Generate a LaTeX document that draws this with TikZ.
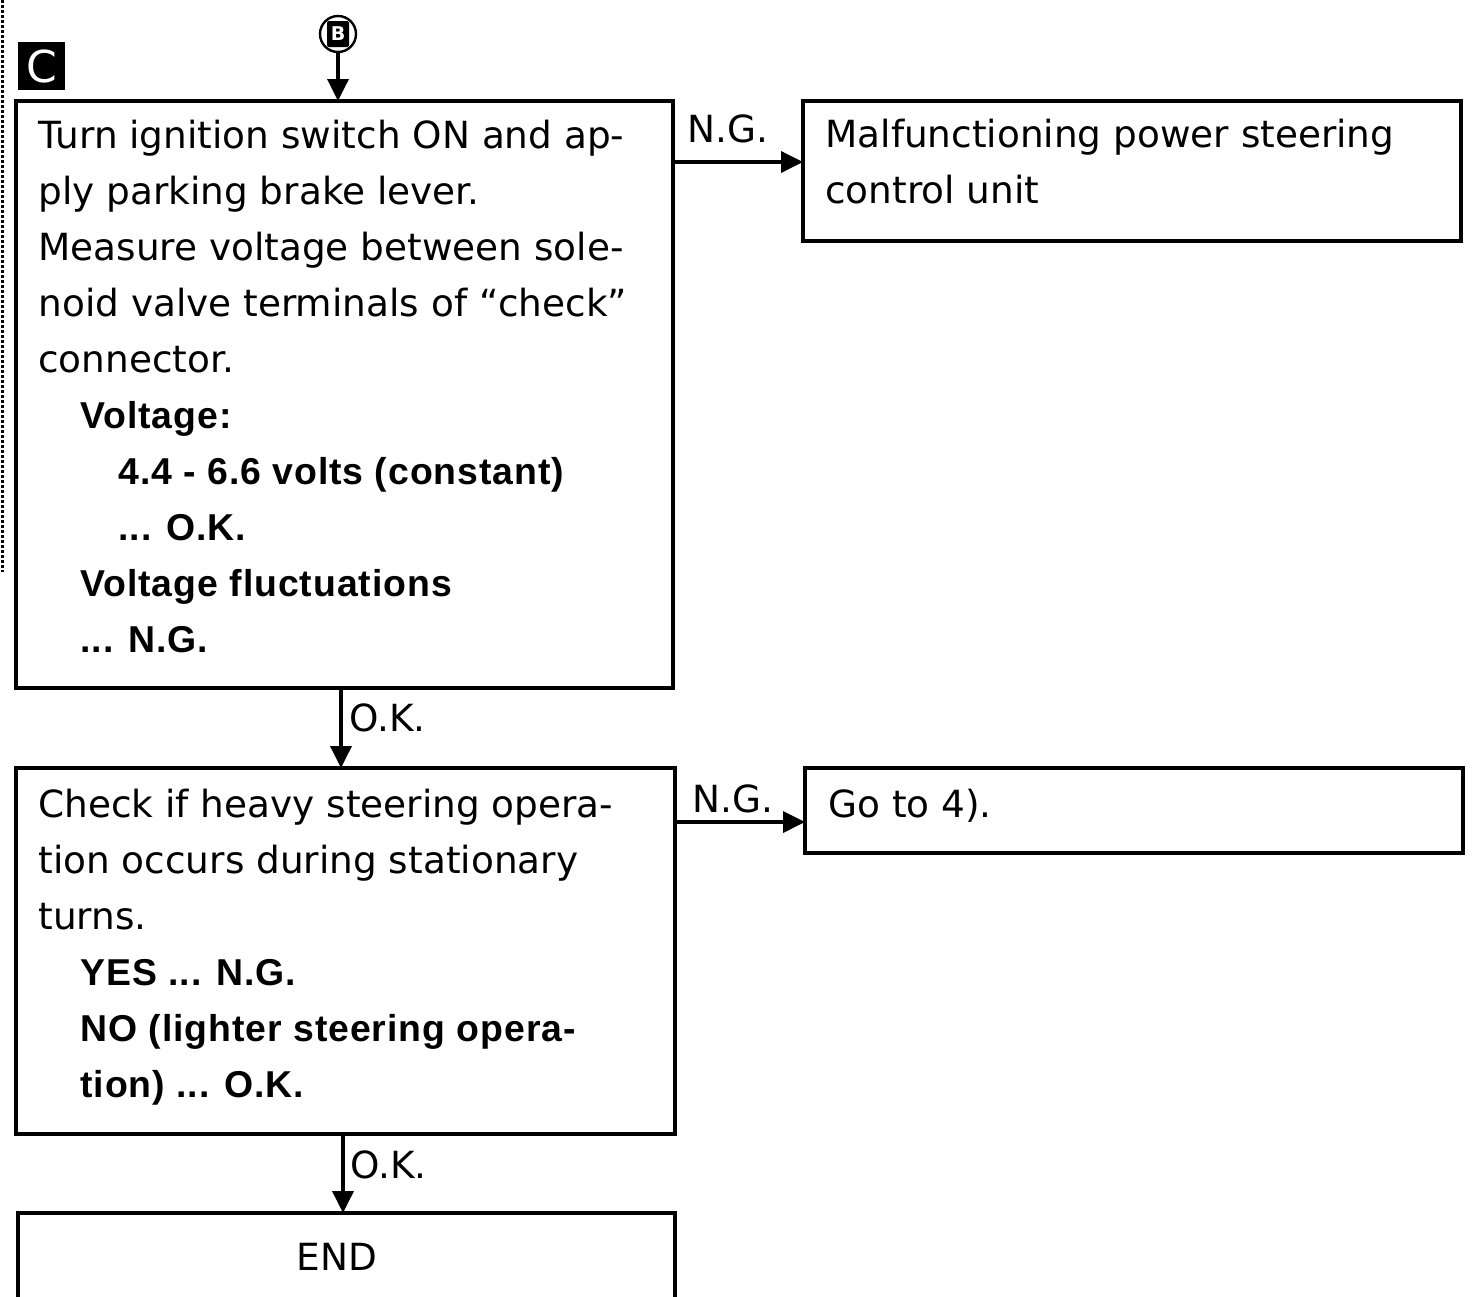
\documentclass[tikz,border=0pt]{standalone}
\usepackage{fontspec}
\setmainfont{DejaVu Sans}
\newfontfamily\lsans[LetterSpace=2.5]{Liberation Sans}
\usetikzlibrary{arrows.meta}
\newcommand\boldtxt[1]{{\lsans\bfseries #1}}
\newcommand\bodyfont{\fontsize{18.7}{28}\selectfont}
\begin{document}
\begin{tikzpicture}[x=0.5pt,y=-0.5pt,
  box/.style={draw, line width=1.6pt, inner sep=0pt, outer sep=0pt, anchor=north west},
  txt/.style={anchor=north west, inner sep=0pt, align=left, font=\bodyfont},
  lbl/.style={anchor=base west, inner sep=0pt, font=\bodyfont},
  arr/.style={line width=1.8pt, -{Triangle[length=11pt,width=10.5pt]}}]
\useasboundingbox (0,0) rectangle (1475,1296);
\clip (0,0) rectangle (1475,1296);

% boxes
\node[box, minimum width=328.5pt, minimum height=293.5pt] (box1) at (16,101) {};
\node[box, minimum width=329pt, minimum height=70pt] (box2) at (803,101) {};
\node[box, minimum width=329.5pt, minimum height=183pt] (box3) at (16,768) {};
\node[box, minimum width=329pt, minimum height=42.5pt] (box4) at (805,768) {};
\node[box, minimum width=328.5pt, minimum height=60pt] (box5) at (18,1213) {};

% texts
\node[txt] (t1) at (38,108.8) {\strut Turn ignition switch ON and ap-\\
ply parking brake lever.\\
Measure voltage between sole-\\
noid valve terminals of “check”\\
connector.\\
\hspace*{21pt}\boldtxt{Voltage:}\\
\hspace*{40pt}\boldtxt{4.4 - 6.6 volts (constant)}\\
\hspace*{40pt}\boldtxt{... O.K.}\\
\hspace*{21pt}\boldtxt{Voltage fluctuations}\\
\hspace*{21pt}\boldtxt{... N.G.}};
\node[txt] (t2) at (825,107.8) {\strut Malfunctioning power steering\\
control unit};
\node[txt] (t3) at (38,777.8) {\strut Check if heavy steering opera-\\
tion occurs during stationary\\
turns.\\
\hspace*{21pt}\boldtxt{YES ... N.G.}\\
\hspace*{21pt}\boldtxt{NO (lighter steering opera-}\\
\hspace*{21pt}\boldtxt{tion) ... O.K.}};
\node[txt] (t4) at (828,777.8) {\strut Go to 4).};
\node[font=\bodyfont, anchor=base, inner sep=0pt] (endt) at (337,1270) {END};

% markers
\node[circle, draw, line width=1.2pt, minimum size=18pt, inner sep=0pt,
  path picture={\fill[rounded corners=1pt] ([shift={(-5.5pt,-6.5pt)}]path picture bounding box.center) rectangle ([shift={(5.5pt,6.5pt)}]path picture bounding box.center);},
  text=white, font=\fontsize{9.5}{9.5}\selectfont\bfseries] (B) at (338,34) {B};
\node[fill=black, minimum width=23.5pt, minimum height=24pt, inner sep=0pt,
  text=white, font=\fontsize{22}{22}\selectfont] (C) at (41.5,66) {C};
\draw[line width=1.5pt, dash pattern=on 1.5pt off 1pt] (2,0) -- (2,572);

% connectors
\draw[arr] (B) -- (B |- box1.north);
\draw[arr] ([yshift=-30.5pt]box1.north east) -- ([yshift=-30.5pt]box2.north west);
\draw[arr] ([xshift=-1.75pt]box1.south) -- ([xshift=-1.75pt]box1.south |- box3.north);
\draw[arr] ([yshift=-27pt]box3.north east) -- ([yshift=-27pt]box4.north west);
\draw[arr] ([xshift=-1.25pt]box3.south) -- ([xshift=-1.25pt]box3.south |- box5.north);

% labels
\node[lbl] (ng1) at (687,142) {N.G.};
\node[lbl] (ok1) at (349,731) {O.K.};
\node[lbl] (ng2) at (692,812) {N.G.};
\node[lbl] (ok2) at (350,1178) {O.K.};
\end{tikzpicture}
\end{document}
